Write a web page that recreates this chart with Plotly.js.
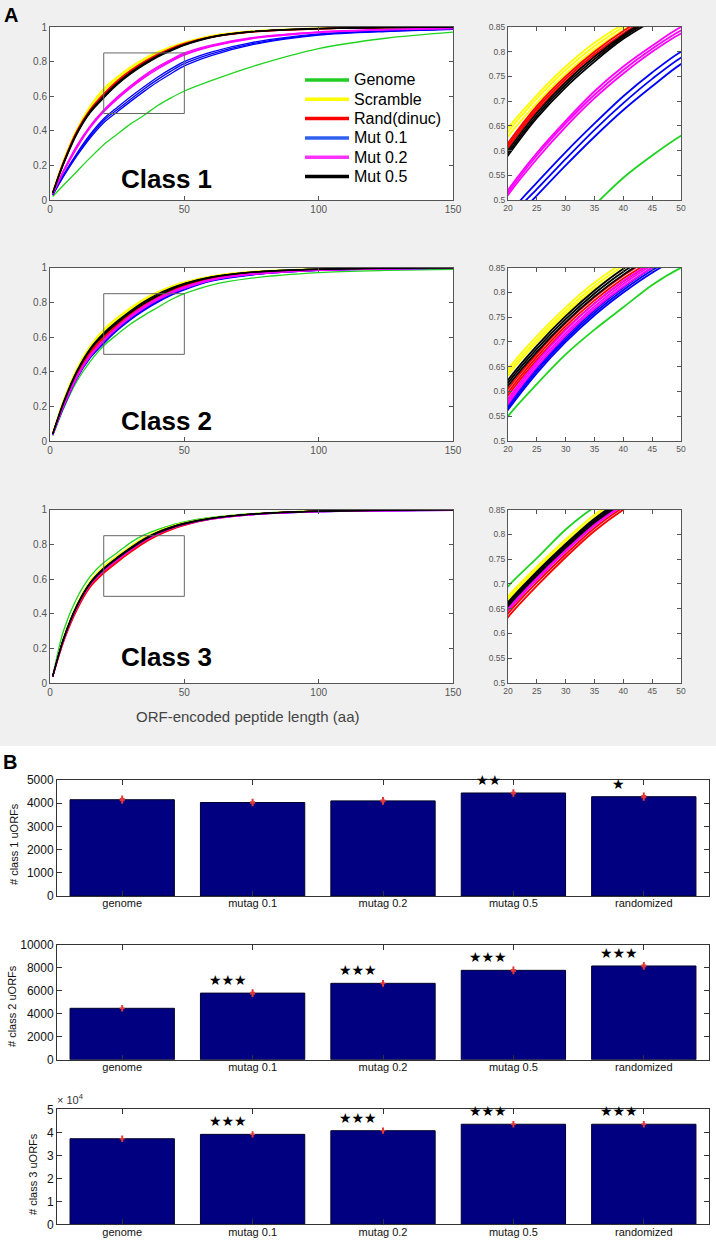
<!DOCTYPE html>
<html><head><meta charset="utf-8">
<script src="https://cdn.plot.ly/plotly-3.0.1.min.js"></script>
<style>html,body{margin:0;padding:0;background:#fff}#chart{width:716px;height:1240px}</style>
</head><body><div id="chart"></div>
<script>
// ---------- Panel A data: cumulative fraction vs ORF-encoded peptide length ----------
const xLen = [1,5,10,15,20,25,30,35,40,45,50,60,75,100,125,150];
const seriesNames = ['Genome','Scramble','Rand(dinuc)','Mut 0.1','Mut 0.2','Mut 0.5'];

// Class 1
const c1Genome = [0.02,0.085,0.165,0.245,0.32,0.38,0.44,0.49,0.545,0.59,0.63,0.69,0.77,0.875,0.935,0.97];
const c1Scramble = [
  [0.045,0.23,0.41,0.545,0.645,0.712,0.77,0.818,0.856,0.887,0.913,0.95,0.977,0.993,0.998,1.0],
  [0.043,0.225,0.405,0.54,0.637,0.705,0.763,0.811,0.85,0.882,0.908,0.947,0.975,0.992,0.998,1.0],
  [0.042,0.22,0.40,0.533,0.628,0.696,0.755,0.804,0.844,0.877,0.904,0.944,0.973,0.991,0.997,0.999]];
const c1Rand = [
  [0.042,0.22,0.40,0.525,0.615,0.69,0.75,0.80,0.842,0.877,0.905,0.944,0.973,0.991,0.997,0.999],
  [0.041,0.215,0.395,0.52,0.61,0.685,0.745,0.795,0.837,0.873,0.901,0.942,0.972,0.99,0.997,0.999],
  [0.04,0.21,0.39,0.515,0.605,0.68,0.74,0.79,0.833,0.869,0.898,0.94,0.971,0.99,0.997,0.999]];
const c1Mut01 = [
  [0.03,0.145,0.27,0.38,0.47,0.535,0.597,0.655,0.71,0.758,0.80,0.855,0.91,0.96,0.978,0.988],
  [0.03,0.14,0.262,0.37,0.46,0.522,0.583,0.642,0.696,0.745,0.788,0.845,0.903,0.956,0.976,0.987],
  [0.028,0.135,0.255,0.36,0.447,0.509,0.57,0.628,0.682,0.73,0.775,0.835,0.897,0.953,0.974,0.986]];
const c1Mut02 = [
  [0.036,0.17,0.315,0.43,0.52,0.595,0.66,0.72,0.77,0.812,0.85,0.895,0.938,0.972,0.986,0.993],
  [0.035,0.165,0.31,0.425,0.515,0.59,0.655,0.713,0.763,0.806,0.843,0.89,0.935,0.97,0.985,0.992],
  [0.034,0.16,0.30,0.418,0.51,0.583,0.648,0.706,0.756,0.80,0.837,0.886,0.932,0.968,0.984,0.991]];
const c1Mut05 = [
  [0.041,0.215,0.39,0.515,0.60,0.676,0.738,0.79,0.834,0.87,0.9,0.943,0.974,0.992,0.998,1.0],
  [0.04,0.21,0.385,0.51,0.595,0.671,0.733,0.785,0.83,0.866,0.897,0.941,0.973,0.991,0.997,0.999],
  [0.039,0.205,0.38,0.505,0.59,0.666,0.728,0.78,0.826,0.862,0.894,0.939,0.972,0.99,0.997,0.999]];

// Class 2
const c2Genome = [0.03,0.185,0.345,0.46,0.55,0.615,0.675,0.725,0.77,0.815,0.85,0.9,0.94,0.972,0.984,0.99];
const c2Scramble = [
  [0.045,0.235,0.42,0.55,0.645,0.712,0.77,0.82,0.86,0.892,0.918,0.952,0.978,0.993,0.998,1.0],
  [0.044,0.23,0.415,0.545,0.638,0.705,0.763,0.813,0.854,0.887,0.913,0.95,0.976,0.992,0.998,1.0],
  [0.043,0.225,0.41,0.54,0.632,0.699,0.757,0.807,0.848,0.882,0.909,0.947,0.975,0.991,0.997,0.999]];
const c2Rand = [
  [0.04,0.215,0.39,0.515,0.605,0.676,0.738,0.79,0.834,0.87,0.90,0.94,0.97,0.99,0.997,0.999],
  [0.04,0.21,0.385,0.51,0.598,0.67,0.732,0.784,0.828,0.864,0.895,0.937,0.968,0.989,0.996,0.999],
  [0.039,0.205,0.38,0.505,0.592,0.664,0.726,0.778,0.822,0.859,0.89,0.934,0.966,0.988,0.996,0.999]];
const c2Mut01 = [
  [0.037,0.2,0.37,0.49,0.572,0.647,0.71,0.764,0.81,0.85,0.882,0.928,0.962,0.986,0.994,0.997],
  [0.036,0.196,0.365,0.485,0.567,0.642,0.705,0.759,0.805,0.845,0.877,0.925,0.96,0.985,0.993,0.997],
  [0.035,0.192,0.36,0.48,0.563,0.637,0.70,0.754,0.80,0.84,0.872,0.922,0.958,0.984,0.993,0.996]];
const c2Mut02 = [
  [0.038,0.205,0.375,0.498,0.585,0.66,0.724,0.778,0.823,0.86,0.89,0.933,0.965,0.987,0.995,0.998],
  [0.037,0.2,0.37,0.493,0.58,0.655,0.718,0.772,0.817,0.855,0.885,0.93,0.963,0.986,0.994,0.997],
  [0.037,0.197,0.366,0.488,0.575,0.65,0.713,0.767,0.812,0.85,0.88,0.927,0.961,0.985,0.994,0.997]];
const c2Mut05 = [
  [0.042,0.225,0.405,0.535,0.623,0.692,0.752,0.804,0.848,0.882,0.91,0.947,0.975,0.992,0.998,1.0],
  [0.041,0.22,0.40,0.53,0.617,0.686,0.746,0.798,0.842,0.877,0.906,0.945,0.974,0.991,0.997,1.0],
  [0.041,0.215,0.395,0.525,0.611,0.68,0.74,0.792,0.836,0.872,0.902,0.943,0.973,0.991,0.997,0.999]];

// Class 3
const c3Genome = [0.04,0.3,0.49,0.615,0.695,0.752,0.81,0.855,0.885,0.91,0.93,0.955,0.977,0.993,0.998,1.0];
const c3Scramble = [
  [0.04,0.26,0.455,0.59,0.675,0.735,0.79,0.84,0.877,0.904,0.925,0.953,0.976,0.993,0.998,1.0],
  [0.04,0.258,0.452,0.586,0.67,0.73,0.785,0.835,0.873,0.901,0.922,0.951,0.975,0.992,0.998,1.0],
  [0.039,0.255,0.448,0.582,0.666,0.726,0.781,0.831,0.87,0.898,0.92,0.95,0.974,0.992,0.997,1.0]];
const c3Rand = [
  [0.037,0.245,0.435,0.566,0.646,0.71,0.767,0.82,0.861,0.893,0.917,0.949,0.974,0.992,0.997,1.0],
  [0.036,0.24,0.428,0.56,0.64,0.703,0.76,0.813,0.855,0.888,0.913,0.947,0.973,0.991,0.997,1.0],
  [0.035,0.235,0.42,0.553,0.633,0.696,0.754,0.807,0.85,0.884,0.909,0.945,0.972,0.991,0.997,0.999]];
const c3Mut01 = [
  [0.038,0.252,0.445,0.578,0.66,0.722,0.778,0.829,0.869,0.899,0.921,0.95,0.974,0.99,0.995,0.997],
  [0.038,0.25,0.442,0.575,0.657,0.719,0.775,0.826,0.866,0.896,0.918,0.948,0.973,0.989,0.995,0.997],
  [0.037,0.248,0.44,0.572,0.654,0.716,0.772,0.823,0.863,0.893,0.916,0.947,0.972,0.989,0.994,0.996]];
const c3Mut02 = [
  [0.038,0.25,0.442,0.574,0.655,0.717,0.774,0.826,0.866,0.896,0.919,0.949,0.973,0.99,0.995,0.997],
  [0.037,0.247,0.438,0.57,0.651,0.713,0.77,0.822,0.862,0.893,0.917,0.948,0.972,0.989,0.995,0.997],
  [0.037,0.245,0.435,0.566,0.647,0.709,0.766,0.818,0.859,0.89,0.914,0.946,0.971,0.989,0.994,0.996]];
const c3Mut05 = [
  [0.039,0.255,0.448,0.58,0.663,0.725,0.781,0.832,0.871,0.9,0.922,0.951,0.975,0.992,0.998,1.0],
  [0.039,0.253,0.445,0.577,0.659,0.721,0.777,0.828,0.867,0.897,0.92,0.95,0.974,0.992,0.997,1.0],
  [0.038,0.25,0.442,0.574,0.655,0.717,0.773,0.824,0.864,0.894,0.917,0.949,0.974,0.991,0.997,0.999]];

const classLabels = ['Class 1','Class 2','Class 3'];
const insetX = [20, 50];
const insetY = [0.5, 0.85];

// ---------- Panel B data: uORF counts ----------
const barCats = ['genome','mutag 0.1','mutag 0.2','mutag 0.5','randomized'];
const class1Counts = [4150, 4030, 4100, 4440, 4280];
const class1Err = [70, 50, 60, 50, 70];
const class2Counts = [4470, 5790, 6640, 7770, 8150];
const class2Err = [70, 110, 80, 120, 120];
const class3Counts = [37200, 39100, 40700, 43500, 43500];
const class3Err = [300, 300, 250, 300, 300];
const class1Stars = ['', '', '', '★★', '★'];
const class2Stars = ['', '★★★', '★★★', '★★★', '★★★'];
const class3Stars = ['', '★★★', '★★★', '★★★', '★★★'];
const barYTitles = ['# class 1 uORFs', '# class 2 uORFs', '# class 3 uORFs'];
const class3TickVals = [0, 10000, 20000, 30000, 40000, 50000];
const class3TickText = ['0', '1', '2', '3', '4', '5'];

// ---------- styles ----------
const W = 716, H = 1240;
const FONT = 'Liberation Sans, Arial, sans-serif';
const px = v => v / W;
const py = v => 1 - v / H;
const colors = ['#1fd41f', '#ffff00', '#ff0000', '#0000ff', '#ff00ff', '#000000'];
const legendColors = ['#22cc22', '#ffff00', '#ff0000', '#3060f0', '#ff33ff', '#000000'];

const classData = [
  [c1Genome, c1Scramble, c1Rand, c1Mut01, c1Mut02, c1Mut05],
  [c2Genome, c2Scramble, c2Rand, c2Mut01, c2Mut02, c2Mut05],
  [c3Genome, c3Scramble, c3Rand, c3Mut01, c3Mut02, c3Mut05]
];

const mainTop = [27, 267.7, 509.7];
const mainBot = [200, 441, 683];

const traces = [];
const layout = {
  width: W, height: H,
  margin: {l: 0, r: 0, t: 0, b: 0},
  paper_bgcolor: '#f0f0f0',
  plot_bgcolor: '#ffffff',
  showlegend: false,
  shapes: [],
  annotations: []
};

function ann(o) {
  return Object.assign({showarrow: false, xanchor: 'center', yanchor: 'middle'}, o);
}

function lineAxis(extra, fs) {
  return Object.assign({
    showgrid: false, zeroline: false, showline: true, linecolor: '#555', linewidth: 1,
    mirror: 'ticks', ticks: 'inside', ticklen: 4, tickcolor: '#555',
    tickfont: {family: FONT, size: fs, color: '#555'}
  }, extra);
}

classData.forEach((groups, ci) => {
  const mi = 2 * ci + 1, ii = 2 * ci + 2;
  const mx = 'x' + mi, my = 'y' + mi, ix = 'x' + ii, iy = 'y' + ii;
  const dom = [py(mainBot[ci]), py(mainTop[ci])];
  layout['xaxis' + mi] = lineAxis({domain: [px(50), px(453)], range: [0, 150], tickvals: [0, 50, 100, 150], anchor: my}, 10);
  layout['yaxis' + mi] = lineAxis({domain: dom, range: [0, 1], dtick: 0.2, anchor: mx}, 10);
  layout['xaxis' + ii] = lineAxis({domain: [px(508), px(681)], range: insetX, dtick: 5, anchor: iy}, 8.5);
  layout['yaxis' + ii] = lineAxis({domain: dom, range: insetY, dtick: 0.05, anchor: ix}, 8.5);
  groups.forEach((g, gi) => {
    const reps = Array.isArray(g[0]) ? g : [g];
    reps.forEach(r => {
      [[mx, my, 1.3], [ix, iy, 1.8]].forEach(([xa, ya, lw]) => {
        traces.push({type: 'scatter', mode: 'lines', x: xLen, y: r, xaxis: xa, yaxis: ya,
          line: {color: colors[gi], width: lw, shape: 'spline', smoothing: 0.8},
          showlegend: false, hoverinfo: 'skip'});
      });
    });
  });
  // inset frame in main plot
  layout.shapes.push({type: 'rect', xref: mx, yref: my, x0: insetX[0], x1: insetX[1], y0: insetY[0], y1: insetY[1],
    line: {color: '#666', width: 1}, fillcolor: 'rgba(0,0,0,0)'});
  layout.annotations.push(ann({xref: 'paper', yref: 'paper', x: px(166), y: py([179, 421, 657][ci]),
    text: '<b>' + classLabels[ci] + '</b>', font: {family: FONT, size: 26, color: '#000'}}));
});

// legend (drawn in class 1 plot area)
seriesNames.forEach((n, i) => {
  const yy = py(80 + 19.3 * i);
  layout.shapes.push({type: 'line', xref: 'paper', yref: 'paper', x0: px(305), x1: px(349), y0: yy, y1: yy,
    line: {color: legendColors[i], width: 3.5}});
  layout.annotations.push(ann({xref: 'paper', yref: 'paper', x: px(352), y: yy, xanchor: 'left',
    text: n, font: {family: FONT, size: 16, color: '#000'}}));
});

// x-axis title of panel A
layout.annotations.push(ann({xref: 'paper', yref: 'paper', x: px(247), y: py(716),
  text: 'ORF-encoded peptide length (aa)', font: {family: FONT, size: 15, color: '#444'}}));
// panel letters
layout.annotations.push(ann({xref: 'paper', yref: 'paper', x: px(11), y: py(15),
  text: '<b>A</b>', font: {family: FONT, size: 20, color: '#000'}}));
layout.annotations.push(ann({xref: 'paper', yref: 'paper', x: px(10), y: py(762),
  text: '<b>B</b>', font: {family: FONT, size: 20, color: '#000'}}));

// white background for panel B
layout.shapes.push({type: 'rect', xref: 'paper', yref: 'paper', x0: 0, x1: 1, y0: 0, y1: py(746),
  fillcolor: '#ffffff', line: {width: 0}, layer: 'below'});

// ---------- Panel B bars ----------
const barSets = [
  {vals: class1Counts, err: class1Err, stars: class1Stars, top: 780, bot: 896, range: [0, 5000], dtick: 1000, titleX: 14, titleY: 844},
  {vals: class2Counts, err: class2Err, stars: class2Stars, top: 944.7, bot: 1059.7, range: [0, 10000], dtick: 2000, titleX: 12, titleY: 1006},
  {vals: class3Counts, err: class3Err, stars: class3Stars, top: 1109.3, bot: 1224.3, range: [0, 50000], tickvals: class3TickVals, ticktext: class3TickText, titleX: 33, titleY: 1174}
];
barSets.forEach((b, bi) => {
  const k = 7 + bi, xa = 'x' + k, ya = 'y' + k;
  layout['xaxis' + k] = {domain: [px(57), px(709)], range: [-0.5, 4.5], anchor: ya, type: 'category',
    showgrid: false, zeroline: false, showline: true, linecolor: '#333', mirror: 'ticks', ticks: 'inside',
    ticklen: 5, tickcolor: '#333', ticklabelstandoff: -3,
    tickfont: {family: FONT, size: 11, color: '#111'}};
  const yax = {domain: [py(b.bot), py(b.top)], range: b.range, anchor: xa, tickformat: 'd',
    showgrid: false, zeroline: false, showline: true, linecolor: '#333', mirror: 'ticks', ticks: 'inside',
    ticklen: 5, tickcolor: '#333', tickfont: {family: FONT, size: 12, color: '#111'}};
  if (b.tickvals) { yax.tickvals = b.tickvals; yax.ticktext = b.ticktext; } else { yax.dtick = b.dtick; }
  layout['yaxis' + k] = yax;
  traces.push({type: 'bar', x: barCats, y: b.vals, xaxis: xa, yaxis: ya, showlegend: false,
    marker: {color: '#000080', line: {color: '#00002a', width: 1}},
    error_y: {type: 'data', array: b.err, visible: true, color: '#e23a3a', thickness: 5, width: 1},
    hoverinfo: 'skip'});
  b.stars.forEach((s, i) => {
    if (!s) return;
    layout.annotations.push(ann({xref: xa, yref: ya, x: barCats[i], y: b.vals[i], yshift: 13, xshift: -25,
      text: s, font: {family: 'DejaVu Sans, sans-serif', size: 14, color: '#000'}}));
  });
  layout.annotations.push(ann({xref: 'paper', yref: 'paper', x: px(b.titleX), y: py(b.titleY),
    textangle: -90, text: barYTitles[bi], font: {family: FONT, size: 11, color: '#111'}}));
});
layout.annotations.push(ann({xref: 'paper', yref: 'paper', x: px(70), y: py(1099),
  text: '× 10<sup>4</sup>', font: {family: FONT, size: 11, color: '#333'}}));
layout.bargap = 0.2;

Plotly.newPlot('chart', traces, layout, {staticPlot: true, displayModeBar: false});
</script>
</body></html>
